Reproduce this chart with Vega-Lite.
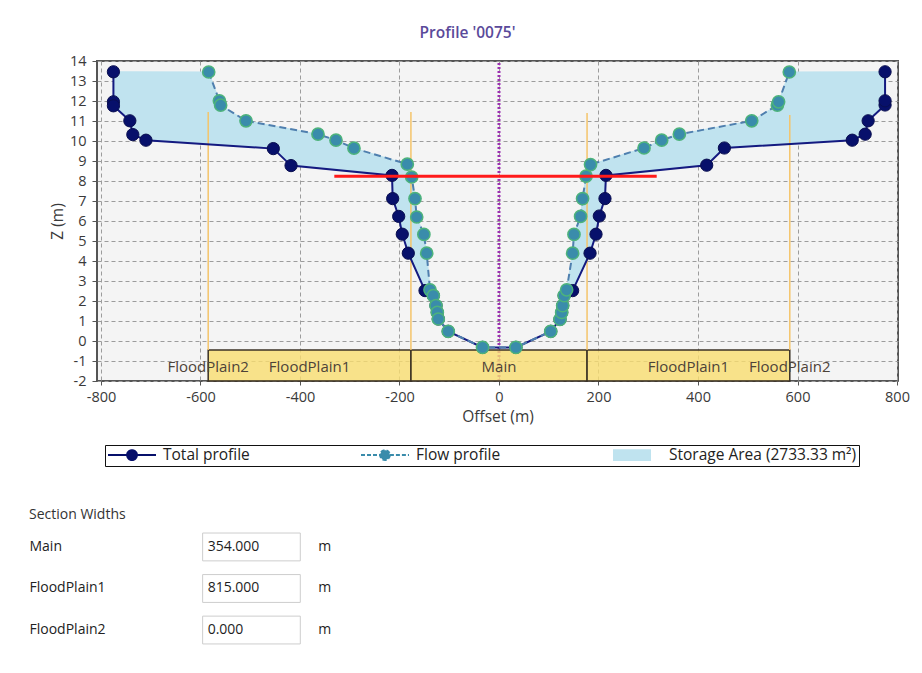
{
  "$schema": "https://vega.github.io/schema/vega-lite/v6.json",
  "background": "#ffffff",
  "padding": {"left": 29, "top": 24, "right": 0, "bottom": 0},
  "datasets": {
    "storage": [
      {"series": "Storage Area (2733.33 m²)", "side": "L", "i": 1, "x": -775, "z": 13.46}, {"series": "Storage Area (2733.33 m²)", "side": "L", "i": 2, "x": -583.5, "z": 13.45}, {"series": "Storage Area (2733.33 m²)", "side": "L", "i": 3, "x": -562, "z": 12.01}, {"series": "Storage Area (2733.33 m²)", "side": "L", "i": 4, "x": -559.5, "z": 11.79}, {"series": "Storage Area (2733.33 m²)", "side": "L", "i": 5, "x": -508.5, "z": 11.01}, {"series": "Storage Area (2733.33 m²)", "side": "L", "i": 6, "x": -363.8, "z": 10.34}, {"series": "Storage Area (2733.33 m²)", "side": "L", "i": 7, "x": -327.6, "z": 10.04}, {"series": "Storage Area (2733.33 m²)", "side": "L", "i": 8, "x": -291.5, "z": 9.64}, {"series": "Storage Area (2733.33 m²)", "side": "L", "i": 9, "x": -184.3, "z": 8.84}, {"series": "Storage Area (2733.33 m²)", "side": "L", "i": 10, "x": -175.5, "z": 8.2}, {"series": "Storage Area (2733.33 m²)", "side": "L", "i": 11, "x": -168.8, "z": 7.12}, {"series": "Storage Area (2733.33 m²)", "side": "L", "i": 12, "x": -165.4, "z": 6.2}, {"series": "Storage Area (2733.33 m²)", "side": "L", "i": 13, "x": -151, "z": 5.33}, {"series": "Storage Area (2733.33 m²)", "side": "L", "i": 14, "x": -145.3, "z": 4.39}, {"series": "Storage Area (2733.33 m²)", "side": "L", "i": 15, "x": -138.7, "z": 2.56}, {"series": "Storage Area (2733.33 m²)", "side": "L", "i": 16, "x": -148.7, "z": 2.52}, {"series": "Storage Area (2733.33 m²)", "side": "L", "i": 17, "x": -182.3, "z": 4.39}, {"series": "Storage Area (2733.33 m²)", "side": "L", "i": 18, "x": -194.4, "z": 5.34}, {"series": "Storage Area (2733.33 m²)", "side": "L", "i": 19, "x": -201.6, "z": 6.23}, {"series": "Storage Area (2733.33 m²)", "side": "L", "i": 20, "x": -213.7, "z": 7.12}, {"series": "Storage Area (2733.33 m²)", "side": "L", "i": 21, "x": -215, "z": 8.28}, {"series": "Storage Area (2733.33 m²)", "side": "L", "i": 22, "x": -418, "z": 8.77}, {"series": "Storage Area (2733.33 m²)", "side": "L", "i": 23, "x": -453.6, "z": 9.62}, {"series": "Storage Area (2733.33 m²)", "side": "L", "i": 24, "x": -709.6, "z": 10.04}, {"series": "Storage Area (2733.33 m²)", "side": "L", "i": 25, "x": -736, "z": 10.32}, {"series": "Storage Area (2733.33 m²)", "side": "L", "i": 26, "x": -742, "z": 11.01}, {"series": "Storage Area (2733.33 m²)", "side": "L", "i": 27, "x": -775, "z": 11.76}, {"series": "Storage Area (2733.33 m²)", "side": "L", "i": 28, "x": -775, "z": 11.96},
      {"series": "Storage Area (2733.33 m²)", "side": "R", "i": 1, "x": 776, "z": 13.46}, {"series": "Storage Area (2733.33 m²)", "side": "R", "i": 2, "x": 583.5, "z": 13.45}, {"series": "Storage Area (2733.33 m²)", "side": "R", "i": 3, "x": 562, "z": 11.96}, {"series": "Storage Area (2733.33 m²)", "side": "R", "i": 4, "x": 559.5, "z": 11.79}, {"series": "Storage Area (2733.33 m²)", "side": "R", "i": 5, "x": 508, "z": 11.01}, {"series": "Storage Area (2733.33 m²)", "side": "R", "i": 6, "x": 362.5, "z": 10.34}, {"series": "Storage Area (2733.33 m²)", "side": "R", "i": 7, "x": 327, "z": 10.04}, {"series": "Storage Area (2733.33 m²)", "side": "R", "i": 8, "x": 291.5, "z": 9.65}, {"series": "Storage Area (2733.33 m²)", "side": "R", "i": 9, "x": 184, "z": 8.82}, {"series": "Storage Area (2733.33 m²)", "side": "R", "i": 10, "x": 175, "z": 8.24}, {"series": "Storage Area (2733.33 m²)", "side": "R", "i": 11, "x": 168, "z": 7.12}, {"series": "Storage Area (2733.33 m²)", "side": "R", "i": 12, "x": 164, "z": 6.23}, {"series": "Storage Area (2733.33 m²)", "side": "R", "i": 13, "x": 150.7, "z": 5.33}, {"series": "Storage Area (2733.33 m²)", "side": "R", "i": 14, "x": 148, "z": 4.39}, {"series": "Storage Area (2733.33 m²)", "side": "R", "i": 15, "x": 136, "z": 2.56}, {"series": "Storage Area (2733.33 m²)", "side": "R", "i": 16, "x": 148, "z": 2.52}, {"series": "Storage Area (2733.33 m²)", "side": "R", "i": 17, "x": 183, "z": 4.39}, {"series": "Storage Area (2733.33 m²)", "side": "R", "i": 18, "x": 195, "z": 5.34}, {"series": "Storage Area (2733.33 m²)", "side": "R", "i": 19, "x": 201.6, "z": 6.25}, {"series": "Storage Area (2733.33 m²)", "side": "R", "i": 20, "x": 213, "z": 7.12}, {"series": "Storage Area (2733.33 m²)", "side": "R", "i": 21, "x": 215, "z": 8.28}, {"series": "Storage Area (2733.33 m²)", "side": "R", "i": 22, "x": 417.5, "z": 8.79}, {"series": "Storage Area (2733.33 m²)", "side": "R", "i": 23, "x": 453, "z": 9.65}, {"series": "Storage Area (2733.33 m²)", "side": "R", "i": 24, "x": 710, "z": 10.04}, {"series": "Storage Area (2733.33 m²)", "side": "R", "i": 25, "x": 736, "z": 10.34}, {"series": "Storage Area (2733.33 m²)", "side": "R", "i": 26, "x": 742, "z": 11.01}, {"series": "Storage Area (2733.33 m²)", "side": "R", "i": 27, "x": 776, "z": 11.8}, {"series": "Storage Area (2733.33 m²)", "side": "R", "i": 28, "x": 776, "z": 12.01}
    ],
    "total": [
      {"series": "Total profile", "x": -775, "z": 13.46}, {"series": "Total profile", "x": -775, "z": 11.96}, {"series": "Total profile", "x": -775, "z": 11.76}, {"series": "Total profile", "x": -742, "z": 11.01}, {"series": "Total profile", "x": -736, "z": 10.32}, {"series": "Total profile", "x": -709.6, "z": 10.04}, {"series": "Total profile", "x": -453.6, "z": 9.62}, {"series": "Total profile", "x": -418, "z": 8.77}, {"series": "Total profile", "x": -215, "z": 8.28}, {"series": "Total profile", "x": -213.7, "z": 7.12}, {"series": "Total profile", "x": -201.6, "z": 6.23}, {"series": "Total profile", "x": -194.4, "z": 5.34}, {"series": "Total profile", "x": -182.3, "z": 4.39}, {"series": "Total profile", "x": -148.7, "z": 2.52}, {"series": "Total profile", "x": -132, "z": 2.27}, {"series": "Total profile", "x": -126.6, "z": 1.77}, {"series": "Total profile", "x": -124, "z": 1.43}, {"series": "Total profile", "x": -122, "z": 1.1}, {"series": "Total profile", "x": -102, "z": 0.48}, {"series": "Total profile", "x": -33, "z": -0.32}, {"series": "Total profile", "x": 34, "z": -0.32}, {"series": "Total profile", "x": 104, "z": 0.48}, {"series": "Total profile", "x": 122.6, "z": 1.08}, {"series": "Total profile", "x": 126, "z": 1.43}, {"series": "Total profile", "x": 128, "z": 1.77}, {"series": "Total profile", "x": 131, "z": 2.27}, {"series": "Total profile", "x": 148, "z": 2.52}, {"series": "Total profile", "x": 183, "z": 4.39}, {"series": "Total profile", "x": 195, "z": 5.34}, {"series": "Total profile", "x": 201.6, "z": 6.25}, {"series": "Total profile", "x": 213, "z": 7.12}, {"series": "Total profile", "x": 215, "z": 8.28}, {"series": "Total profile", "x": 417.5, "z": 8.79}, {"series": "Total profile", "x": 453, "z": 9.65}, {"series": "Total profile", "x": 710, "z": 10.04}, {"series": "Total profile", "x": 736, "z": 10.34}, {"series": "Total profile", "x": 742, "z": 11.01}, {"series": "Total profile", "x": 776, "z": 11.8}, {"series": "Total profile", "x": 776, "z": 12.01}, {"series": "Total profile", "x": 776, "z": 13.46}
    ],
    "flow": [
      {"series": "Flow profile", "x": -583.5, "z": 13.45}, {"series": "Flow profile", "x": -562, "z": 12.01}, {"series": "Flow profile", "x": -559.5, "z": 11.79}, {"series": "Flow profile", "x": -508.5, "z": 11.01}, {"series": "Flow profile", "x": -363.8, "z": 10.34}, {"series": "Flow profile", "x": -327.6, "z": 10.04}, {"series": "Flow profile", "x": -291.5, "z": 9.64}, {"series": "Flow profile", "x": -184.3, "z": 8.84}, {"series": "Flow profile", "x": -175.5, "z": 8.2}, {"series": "Flow profile", "x": -168.8, "z": 7.12}, {"series": "Flow profile", "x": -165.4, "z": 6.2}, {"series": "Flow profile", "x": -151, "z": 5.33}, {"series": "Flow profile", "x": -145.3, "z": 4.39}, {"series": "Flow profile", "x": -138.7, "z": 2.56}, {"series": "Flow profile", "x": -132, "z": 2.27}, {"series": "Flow profile", "x": -126.6, "z": 1.77}, {"series": "Flow profile", "x": -124, "z": 1.43}, {"series": "Flow profile", "x": -122, "z": 1.1}, {"series": "Flow profile", "x": -102, "z": 0.48}, {"series": "Flow profile", "x": -33, "z": -0.32}, {"series": "Flow profile", "x": 34, "z": -0.32}, {"series": "Flow profile", "x": 104, "z": 0.48}, {"series": "Flow profile", "x": 122.6, "z": 1.08}, {"series": "Flow profile", "x": 126, "z": 1.43}, {"series": "Flow profile", "x": 128, "z": 1.77}, {"series": "Flow profile", "x": 131, "z": 2.27}, {"series": "Flow profile", "x": 136, "z": 2.56}, {"series": "Flow profile", "x": 148, "z": 4.39}, {"series": "Flow profile", "x": 150.7, "z": 5.33}, {"series": "Flow profile", "x": 164, "z": 6.23}, {"series": "Flow profile", "x": 168, "z": 7.12}, {"series": "Flow profile", "x": 175, "z": 8.24}, {"series": "Flow profile", "x": 184, "z": 8.82}, {"series": "Flow profile", "x": 291.5, "z": 9.65}, {"series": "Flow profile", "x": 327, "z": 10.04}, {"series": "Flow profile", "x": 362.5, "z": 10.34}, {"series": "Flow profile", "x": 508, "z": 11.01}, {"series": "Flow profile", "x": 559.5, "z": 11.79}, {"series": "Flow profile", "x": 562, "z": 11.96}, {"series": "Flow profile", "x": 583.5, "z": 13.45}
    ],
    "sections": [
      {"section": "FloodPlain1", "start": -584.5, "end": -177, "bottom": -2, "top": -0.45},
      {"section": "Main", "start": -177, "end": 177, "bottom": -2, "top": -0.45},
      {"section": "FloodPlain1", "start": 177, "end": 584.5, "bottom": -2, "top": -0.45}
    ],
    "labels": [
      {"label": "FloodPlain2", "x": -584.5, "z": -1.3}, {"label": "FloodPlain1", "x": -380.75, "z": -1.3}, {"label": "Main", "x": 0, "z": -1.3}, {"label": "FloodPlain1", "x": 380.75, "z": -1.3}, {"label": "FloodPlain2", "x": 584.5, "z": -1.3}
    ],
    "boundaries": [
      {"x": -584.5, "base": -0.45, "top": 11.45}, {"x": -177, "base": -0.45, "top": 11.45}, {"x": 177, "base": -0.45, "top": 11.4}, {"x": 584.5, "base": -0.45, "top": 11.3}
    ],
    "water": [{"x1": -331, "x2": 317, "z": 8.24}],
    "centre": [{"x": 0, "z1": -2, "z2": 14}],
    "widths": [
      {"section": "Main", "width": "354.000", "unit": "m"},
      {"section": "FloodPlain1", "width": "815.000", "unit": "m"},
      {"section": "FloodPlain2", "width": "0.000", "unit": "m"}
    ]
  },
  "vconcat": [
    {
      "width": 801, "height": 320,
      "title": {"text": "Profile '0075'", "color": "#5a4a9a", "fontSize": 15.5, "fontWeight": 600, "dx": -30, "offset": 12, "anchor": "middle"},
      "view": {"stroke": "#555555", "strokeWidth": 2, "fill": "#f4f4f4"},
      "layer": [
        {
          "data": {"name": "storage"},
          "mark": {"type": "line", "fill": "#c0e3ef", "strokeWidth": 1},
          "encoding": {
            "x": {"field": "x", "type": "quantitative", "scale": {"domain": [-808, 802], "nice": false, "zero": false},
              "axis": {"title": "Offset (m)", "values": [-800, -600, -400, -200, 0, 200, 400, 600, 800], "tickCount": 20, "labelExpr": "datum.value < 0 ? '-' + abs(datum.value) : '' + datum.value", "grid": true, "gridColor": "#9c9c9c", "gridDash": [4, 3], "domain": false, "tickSize": 4, "tickColor": "#555555", "labelFontSize": 14.5, "labelColor": "#3a3a3a", "labelPadding": 5, "labelFlush": false, "labelOverlap": false, "titleFontSize": 15.5, "titleFontWeight": "normal", "titleColor": "#3a3a3a", "titlePadding": 6}},
            "y": {"field": "z", "type": "quantitative", "scale": {"domain": [-2, 14], "nice": false, "zero": false},
              "axis": {"title": "Z (m)", "values": [-2, -1, 0, 1, 2, 3, 4, 5, 6, 7, 8, 9, 10, 11, 12, 13, 14], "tickCount": 20, "labelExpr": "datum.value < 0 ? '-' + abs(datum.value) : '' + datum.value", "grid": true, "gridColor": "#9c9c9c", "gridDash": [4, 3], "domain": false, "tickSize": 5, "tickColor": "#555555", "labelFontSize": 14.5, "labelColor": "#3a3a3a", "labelPadding": 6, "labelOverlap": false, "labelFlush": false, "titleFontSize": 15.5, "titleFontWeight": "normal", "titleColor": "#3a3a3a", "titlePadding": 4}},
            "detail": {"field": "side", "type": "nominal"},
            "order": {"field": "i", "type": "quantitative"},
            "color": {"field": "series", "type": "nominal", "scale": {"domain": ["Total profile", "Flow profile", "Storage Area (2733.33 m²)"], "range": ["#07106b", "#3a8cab", "#bfe3ef"]}}
          }
        },
        {
          "data": {"name": "centre"},
          "mark": {"type": "rule", "stroke": "#9b30b0", "strokeWidth": 3, "strokeDash": [2, 2]},
          "encoding": {"x": {"field": "x", "type": "quantitative"}, "y": {"field": "z1", "type": "quantitative"}, "y2": {"field": "z2"}}
        },
        {
          "data": {"name": "sections"},
          "mark": {"type": "rect", "fill": "#f9dd6f", "fillOpacity": 0.8, "stroke": "#3b3226", "strokeWidth": 1.5},
          "encoding": {"x": {"field": "start", "type": "quantitative"}, "x2": {"field": "end"}, "y": {"field": "bottom", "type": "quantitative"}, "y2": {"field": "top"}}
        },
        {
          "data": {"name": "labels"},
          "mark": {"type": "text", "fontSize": 15, "color": "#4d4238", "baseline": "middle"},
          "encoding": {"x": {"field": "x", "type": "quantitative"}, "y": {"field": "z", "type": "quantitative"}, "text": {"field": "label", "type": "nominal"}}
        },
        {
          "data": {"name": "boundaries"},
          "mark": {"type": "rule", "stroke": "#f4c46a", "strokeWidth": 1.5},
          "encoding": {"x": {"field": "x", "type": "quantitative"}, "y": {"field": "base", "type": "quantitative"}, "y2": {"field": "top"}}
        },
        {
          "data": {"name": "total"},
          "mark": {"type": "line", "stroke": "#141a80", "strokeWidth": 2},
          "encoding": {"x": {"field": "x", "type": "quantitative"}, "y": {"field": "z", "type": "quantitative"}}
        },
        {
          "data": {"name": "total"},
          "mark": {"type": "point", "filled": true, "size": 150, "opacity": 1, "stroke": "#0a0f50", "strokeWidth": 1},
          "encoding": {
            "x": {"field": "x", "type": "quantitative"}, "y": {"field": "z", "type": "quantitative"},
            "color": {"field": "series", "type": "nominal", "scale": {"domain": ["Total profile", "Flow profile", "Storage Area (2733.33 m²)"], "range": ["#07106b", "#3a8cab", "#bfe3ef"]},
              "legend": {
                "title": null, "orient": "none", "legendX": 8, "legendY": 384, "direction": "horizontal", "columns": 3, "gridAlign": "all", "columnPadding": 6,
                "padding": 2, "strokeColor": "#111111", "fillColor": "#ffffff", "labelFontSize": 15.5, "labelColor": "#222222", "labelLimit": 300,
                "symbolSize": 196, "labelOffset": 40, "symbolStrokeWidth": 2, "symbolOpacity": 1
              }}
          }
        },
        {
          "data": {"name": "flow"},
          "mark": {"type": "line", "stroke": "#4f7fae", "strokeWidth": 2, "strokeDash": [7, 4]},
          "encoding": {"x": {"field": "x", "type": "quantitative"}, "y": {"field": "z", "type": "quantitative"}}
        },
        {
          "data": {"name": "flow"},
          "mark": {"type": "point", "filled": true, "size": 150, "opacity": 1, "stroke": "#4db37b", "strokeWidth": 1.5},
          "encoding": {
            "x": {"field": "x", "type": "quantitative"}, "y": {"field": "z", "type": "quantitative"},
            "color": {"field": "series", "type": "nominal", "scale": {"domain": ["Total profile", "Flow profile", "Storage Area (2733.33 m²)"], "range": ["#07106b", "#3a8cab", "#bfe3ef"]}}
          }
        },
        {
          "data": {"name": "storage"},
          "mark": {"type": "point", "filled": true, "opacity": 0},
          "encoding": {
            "x": {"field": "x", "type": "quantitative"}, "y": {"field": "z", "type": "quantitative"},
            "color": {"field": "series", "type": "nominal", "scale": {"domain": ["Total profile", "Flow profile", "Storage Area (2733.33 m²)"], "range": ["#07106b", "#3a8cab", "#bfe3ef"]}},
            "shape": {"field": "series", "type": "nominal",
              "scale": {"domain": ["Total profile", "Flow profile", "Storage Area (2733.33 m²)"], "range": ["M-1,0H1.73M3.13,0H5.86M3.13,0A0.7,0.7,0,1,1,1.73,0A0.7,0.7,0,1,1,3.13,0Z", "M-1,0H1.73M3.13,0H5.86M3.13,0A0.7,0.7,0,1,1,1.73,0A0.7,0.7,0,1,1,3.13,0Z", "M-1,-0.7H4.14V0.7H-1Z"]},
              "legend": {"title": null, "orient": "none", "legendX": 8, "legendY": 384}},
            "strokeDash": {"field": "series", "type": "nominal",
              "scale": {"domain": ["Total profile", "Flow profile", "Storage Area (2733.33 m²)"], "range": [[1, 0], [4, 2], [1, 0]]},
              "legend": {"title": null, "orient": "none", "legendX": 8, "legendY": 384}}
          }
        },
        {
          "data": {"name": "water"},
          "mark": {"type": "rule", "stroke": "#ff1a1a", "strokeWidth": 3},
          "encoding": {"x": {"field": "x1", "type": "quantitative"}, "x2": {"field": "x2"}, "y": {"field": "z", "type": "quantitative"}}
        }
      ]
    },
    {
      "width": 293, "height": 140,
      "data": {"name": "widths"},
      "title": {"text": "Section Widths", "anchor": "start", "frame": "group", "dx": -68, "offset": -14, "baseline": "middle", "fontSize": 14, "fontWeight": "normal", "color": "#333333"},
      "view": {"stroke": null},
      "encoding": {
        "y": {"field": "section", "type": "nominal",
          "scale": {"domain": ["Main", "FloodPlain1", "FloodPlain2"], "paddingInner": 0.33, "paddingOuter": 0.35, "align": 0.62},
          "axis": {"title": null, "orient": "left", "labelAlign": "left", "labelPadding": 68, "ticks": false, "domain": false, "grid": false, "labelFontSize": 14, "labelColor": "#222222"}}
      },
      "layer": [
        {
          "mark": {"type": "rect", "fill": "#ffffff", "stroke": "#cdcdcd", "strokeWidth": 1},
          "encoding": {"x": {"field": "unit", "type": "nominal", "scale": {"domain": ["m"], "paddingInner": 0, "paddingOuter": 1.0103, "align": 0.5408}, "axis": null}}
        },
        {
          "mark": {"type": "text", "align": "left", "baseline": "middle", "dx": 5, "fontSize": 14, "color": "#1e1e1e"},
          "encoding": {"x": {"field": "unit", "type": "nominal", "bandPosition": 0}, "text": {"field": "width", "type": "nominal"}}
        },
        {
          "mark": {"type": "text", "align": "left", "baseline": "middle", "dx": 18, "fontSize": 14, "color": "#1e1e1e"},
          "encoding": {"x": {"field": "unit", "type": "nominal", "bandPosition": 1}, "text": {"field": "unit", "type": "nominal"}}
        }
      ]
    }
  ],
  "spacing": 82,
  "config": {
    "font": "Open Sans",
    "axis": {"labelFont": "Open Sans", "titleFont": "Open Sans"},
    "legend": {"labelFont": "Open Sans"},
    "title": {"font": "Open Sans"}
  }
}
